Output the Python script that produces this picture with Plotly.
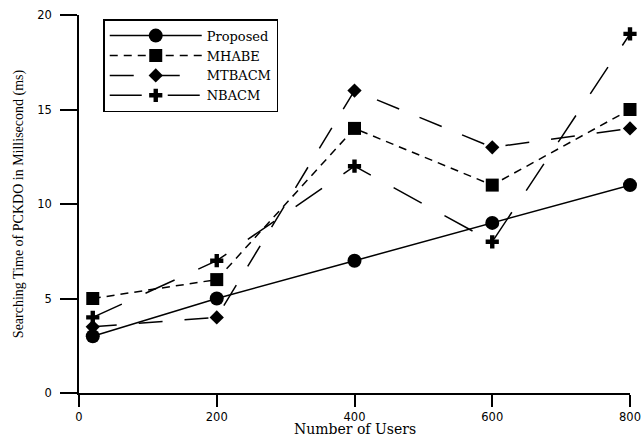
import plotly.graph_objects as go

users = [20, 200, 400, 600, 800]
proposed = [3, 5, 7, 9, 11]
mhabe = [5, 6, 14, 11, 15]
mtbacm = [3.5, 4, 16, 13, 14]
nbacm = [4, 7, 12, 8, 19]

x_ticks = [0, 200, 400, 600, 800]
y_ticks = [0, 5, 10, 15, 20]

series = [
    ("Proposed", proposed, "circle", 14, "solid"),
    ("MHABE", mhabe, "square", 13, "8px,6px"),
    ("MTBACM", mtbacm, "diamond", 11, "24px,22px"),
    ("NBACM", nbacm, "cross", 11, "32px,26px"),
]

fig = go.Figure()
for name, vals, sym, size, dash in series:
    fig.add_trace(go.Scatter(
        x=users, y=vals, name=name, mode="lines+markers",
        line=dict(color="black", width=1.5, dash=dash),
        marker=dict(symbol=sym, size=size, color="black", line=dict(width=0)),
        cliponaxis=False,
    ))

fig.update_layout(
    width=644, height=438,
    margin=dict(l=79, r=14, t=15, b=45),
    plot_bgcolor="white", paper_bgcolor="white",
    showlegend=True,
    legend=dict(
        x=0.044, y=0.989, xanchor="left", yanchor="top",
        bgcolor="white", bordercolor="black", borderwidth=1.5,
        font=dict(family="DejaVu Serif", size=13, color="black"),
        itemwidth=92, tracegroupgap=0,
    ),
    xaxis=dict(
        range=[0, 800], tickvals=x_ticks, showline=True, linecolor="black", linewidth=1.5,
        ticks="outside", ticklen=12, tickwidth=1.5, tickcolor="black",
        ticklabelstandoff=0,
        showgrid=False, zeroline=False, automargin=False,
        tickfont=dict(family="DejaVu Sans", size=11.5, color="black"),
    ),
    yaxis=dict(
        range=[0, 20], tickvals=y_ticks, showline=True, linecolor="black", linewidth=1.5,
        ticks="outside", ticklen=17, tickwidth=1.5, tickcolor="black",
        ticklabelstandoff=6,
        showgrid=False, zeroline=False, automargin=False,
        tickfont=dict(family="DejaVu Sans", size=11.5, color="black"),
        title=dict(text="Searching Time of PCKDO in Millisecond (ms)", standoff=10,
                   font=dict(family="Liberation Serif", size=14, color="black")),
    ),
    annotations=[dict(
        text="Number of Users", xref="paper", yref="paper",
        x=0.5, y=-0.096, xanchor="center", yanchor="middle", showarrow=False,
        borderpad=0,
        font=dict(family="DejaVu Serif", size=14, color="black"),
    )],
)

# remove the browser's default 8px body margin so the figure fills the window
fig.write_html("out.html", config={"displayModeBar": False},
               post_script="document.body.style.margin='0px';")
